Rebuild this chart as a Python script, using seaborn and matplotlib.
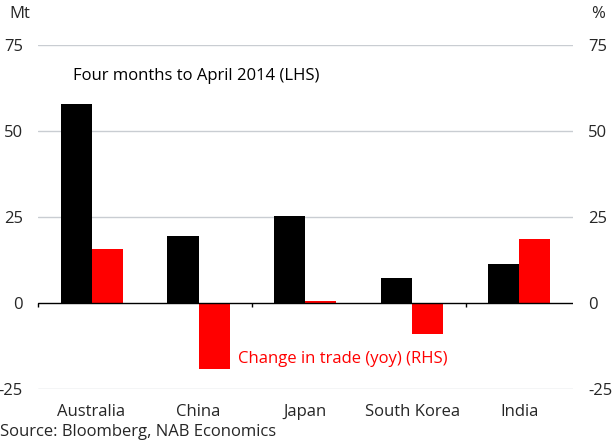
#Imports
import pandas as pd
import matplotlib
matplotlib.use("Agg")
import matplotlib.pyplot as plt
import seaborn as sns

#Data
countries = ["Australia", "China", "Japan", "South Korea", "India"]
four_months_mt = [58.0, 19.5, 25.4, 7.4, 11.4]
change_yoy_pct = [15.7, -19.2, 0.5, -8.9, 18.7]
series_names = ["Four months to April 2014 (LHS)", "Change in trade (yoy) (RHS)"]
yticks = [-25, 0, 25, 50, 75]

df = pd.DataFrame({
    "Country": countries * 2,
    "Value": four_months_mt + change_yoy_pct,
    "Series": [series_names[0]] * 5 + [series_names[1]] * 5,
})

#Style
sns.set_style("white")
plt.rcParams["font.family"] = ["Open Sans", "DejaVu Sans"]
fs = 12

fig = plt.figure(figsize=(6.14, 4.42), dpi=100)
ax = fig.add_axes([0.062, 0.12, 0.871, 0.778])

sns.barplot(
    data=df,
    x="Country",
    y="Value",
    hue="Series",
    palette=["#000000", "#ff0000"],
    width=0.58,
    gap=0,
    saturation=1,
    linewidth=0,
    edgecolor="none",
    legend=False,
    ax=ax
)

ax.set_ylim(-25, 75)
ax.set_xlim(-0.5, 4.5)
ax.set_yticks(yticks)
ax.set_yticklabels([str(t) for t in yticks])
for t in [-25, 25, 50, 75]:
    ax.axhline(t, color="#c9cdd2", linewidth=1, zorder=0)
ax.axhline(0, color="black", linewidth=1, zorder=3)
ax.tick_params(axis="y", length=0, pad=11, labelsize=fs)
ax.tick_params(axis="x", length=0, pad=11, labelsize=fs)
ax.set_xlabel("")
ax.set_ylabel("")
for s in ax.spines.values():
    s.set_visible(False)

#Right axis (same scale)
ax2 = ax.twinx()
ax2.set_ylim(-25, 75)
ax2.set_yticks(yticks)
ax2.set_yticklabels([str(t) for t in yticks])
ax2.tick_params(axis="y", length=0, pad=11, labelsize=fs)
for s in ax2.spines.values():
    s.set_visible(False)

#Tick marks on the zero line
sec = ax.secondary_xaxis(0.25)
sec.set_xticks([-0.5, 1.5, 3.5])
sec.set_xticklabels(["", "", ""])
sec.tick_params(axis="x", direction="out", length=3, width=1, color="black")
sec.spines["bottom"].set_visible(False)

#Annotations
fig.text(0.016, 0.968, "Mt", fontsize=fs, va="center", ha="left")
fig.text(0.985, 0.968, "%", fontsize=fs, va="center", ha="right")
ax.text(-0.17, 66, series_names[0], fontsize=fs, color="black", va="center", ha="left")
ax.text(1.37, -16.3, series_names[1], fontsize=fs, color="#ff0000", va="center", ha="left")
fig.text(0.0, 0.022, "Source: Bloomberg, NAB Economics", fontsize=fs, va="center", ha="left")

plt.savefig("out.png", dpi=100)
